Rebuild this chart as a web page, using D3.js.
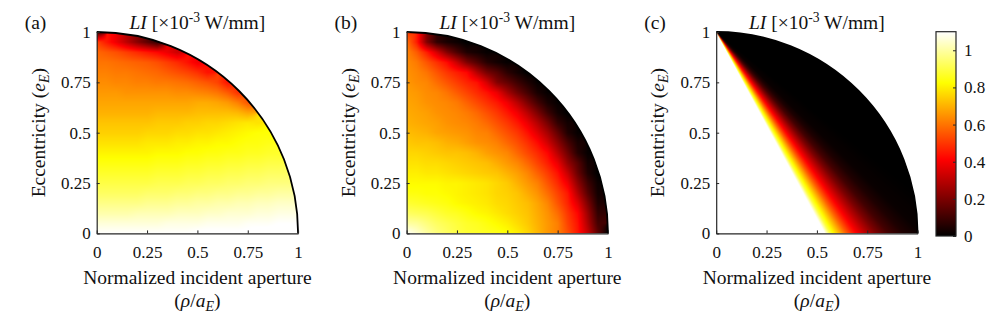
<!DOCTYPE html>
<html>
<head>
<meta charset="utf-8">
<script src="https://cdn.jsdelivr.net/npm/d3@7"></script>
<style>
  html, body { margin: 0; padding: 0; background: #fff; }
</style>
</head>
<body>
<script>
// ---- data ----
var axisTicks = [0, 0.25, 0.5, 0.75, 1];
var axisTickLabels = ["0", "0.25", "0.5", "0.75", "1"];
var cbTicks = [0, 0.2, 0.4, 0.6, 0.8, 1];
var cbTickLabels = ["0", "0.2", "0.4", "0.6", "0.8", "1"];
var cbMax = 1.1;
var panelLetters = ["(a)", "(b)", "(c)"];

// LI sampled every 0.05 in rho/a (columns) and e (rows, from e = 0 upward),
// only inside the quarter disc
var gridStep = 0.05;
var liA = [
  [1.10,1.10,1.10,1.10,1.10,1.10,1.10,1.10,1.10,1.10,1.11,1.11,1.11,1.11,1.11,1.11,1.12,1.12,1.12,1.12],
  [1.06,1.06,1.06,1.06,1.06,1.06,1.06,1.07,1.07,1.07,1.07,1.08,1.08,1.08,1.08,1.09,1.09,1.09,1.10,1.10],
  [1.01,1.01,1.01,1.01,1.02,1.02,1.02,1.02,1.03,1.03,1.03,1.04,1.04,1.05,1.05,1.05,1.06,1.06,1.07,1.07],
  [0.97,0.97,0.97,0.97,0.97,0.98,0.98,0.98,0.99,0.99,1.00,1.00,1.01,1.01,1.02,1.02,1.03,1.03,1.04,1.04],
  [0.93,0.93,0.93,0.93,0.93,0.94,0.94,0.94,0.95,0.95,0.96,0.96,0.97,0.97,0.98,0.98,0.99,0.99,1.00,1.00],
  [0.90,0.90,0.90,0.90,0.90,0.90,0.91,0.91,0.91,0.92,0.92,0.93,0.93,0.94,0.94,0.95,0.95,0.96,0.96,0.96],
  [0.87,0.87,0.87,0.87,0.87,0.87,0.88,0.88,0.88,0.89,0.89,0.90,0.90,0.91,0.91,0.92,0.92,0.93,0.93,0.93],
  [0.84,0.84,0.84,0.84,0.84,0.84,0.85,0.85,0.85,0.86,0.86,0.87,0.87,0.88,0.88,0.89,0.89,0.90,0.90],
  [0.81,0.81,0.81,0.81,0.81,0.81,0.82,0.82,0.82,0.83,0.83,0.84,0.84,0.85,0.85,0.86,0.86,0.87,0.87],
  [0.78,0.78,0.78,0.78,0.78,0.79,0.79,0.79,0.80,0.80,0.81,0.81,0.82,0.82,0.83,0.84,0.84,0.85],
  [0.75,0.75,0.75,0.75,0.75,0.76,0.76,0.76,0.77,0.77,0.78,0.78,0.79,0.80,0.81,0.82,0.83,0.83],
  [0.73,0.73,0.73,0.73,0.73,0.73,0.74,0.74,0.74,0.75,0.75,0.76,0.76,0.77,0.78,0.79,0.78],
  [0.70,0.70,0.70,0.70,0.70,0.70,0.71,0.71,0.71,0.71,0.72,0.72,0.72,0.72,0.71,0.68],
  [0.68,0.68,0.68,0.68,0.68,0.68,0.68,0.68,0.68,0.68,0.69,0.69,0.68,0.66,0.62,0.55],
  [0.66,0.66,0.66,0.65,0.65,0.65,0.65,0.65,0.64,0.64,0.63,0.62,0.60,0.56,0.49],
  [0.64,0.64,0.63,0.63,0.62,0.62,0.61,0.61,0.60,0.59,0.57,0.55,0.52,0.44],
  [0.62,0.62,0.61,0.61,0.60,0.59,0.58,0.56,0.54,0.52,0.49,0.44],
  [0.60,0.60,0.59,0.58,0.57,0.56,0.54,0.51,0.48,0.44,0.39],
  [0.58,0.56,0.54,0.51,0.48,0.45,0.42,0.38,0.33],
  [0.52,0.45,0.38,0.30,0.22,0.15,0.08],
  [0.10]
];
var liB = [
  [1.10,1.05,1.00,0.96,0.93,0.90,0.88,0.87,0.86,0.85,0.83,0.80,0.76,0.71,0.66,0.62,0.54,0.45,0.32,0.15,0.00],
  [1.00,0.99,0.96,0.93,0.91,0.89,0.87,0.86,0.84,0.82,0.80,0.77,0.74,0.70,0.66,0.62,0.52,0.44,0.28,0.11],
  [0.93,0.92,0.91,0.89,0.87,0.86,0.84,0.82,0.81,0.79,0.77,0.75,0.73,0.69,0.65,0.59,0.50,0.42,0.25,0.08],
  [0.88,0.87,0.86,0.85,0.84,0.82,0.81,0.80,0.79,0.77,0.76,0.74,0.72,0.68,0.63,0.55,0.47,0.36,0.20,0.05],
  [0.84,0.84,0.83,0.83,0.82,0.81,0.80,0.79,0.78,0.76,0.75,0.73,0.69,0.65,0.59,0.52,0.45,0.29,0.14,0.03],
  [0.82,0.82,0.82,0.82,0.81,0.81,0.80,0.79,0.78,0.76,0.74,0.70,0.66,0.62,0.55,0.48,0.39,0.23,0.10,0.02],
  [0.80,0.80,0.79,0.79,0.78,0.77,0.76,0.75,0.74,0.73,0.70,0.67,0.63,0.57,0.51,0.44,0.32,0.17,0.05,0.00],
  [0.78,0.78,0.77,0.77,0.76,0.75,0.74,0.73,0.72,0.69,0.66,0.63,0.58,0.52,0.46,0.38,0.24,0.14,0.03],
  [0.76,0.76,0.75,0.74,0.73,0.73,0.72,0.70,0.67,0.65,0.63,0.58,0.53,0.48,0.42,0.30,0.18,0.06,0.01],
  [0.74,0.73,0.73,0.72,0.70,0.69,0.67,0.65,0.64,0.62,0.58,0.54,0.49,0.43,0.34,0.23,0.12,0.04],
  [0.72,0.71,0.70,0.68,0.67,0.66,0.65,0.63,0.62,0.58,0.54,0.50,0.44,0.36,0.27,0.16,0.05,0.01],
  [0.70,0.69,0.68,0.67,0.65,0.64,0.63,0.61,0.58,0.54,0.50,0.45,0.38,0.29,0.19,0.08,0.03],
  [0.69,0.68,0.67,0.65,0.64,0.63,0.61,0.58,0.54,0.50,0.45,0.39,0.30,0.20,0.10,0.03,0.00],
  [0.68,0.67,0.65,0.64,0.63,0.61,0.57,0.53,0.49,0.45,0.39,0.30,0.20,0.11,0.04,0.01],
  [0.67,0.66,0.64,0.63,0.60,0.56,0.52,0.48,0.44,0.38,0.27,0.18,0.11,0.04,0.01],
  [0.66,0.64,0.63,0.59,0.55,0.51,0.47,0.44,0.34,0.21,0.16,0.10,0.05,0.01],
  [0.65,0.63,0.60,0.55,0.50,0.46,0.42,0.29,0.19,0.14,0.07,0.03,0.00],
  [0.64,0.61,0.55,0.49,0.43,0.32,0.20,0.13,0.06,0.03,0.01],
  [0.63,0.56,0.46,0.34,0.21,0.12,0.05,0.03,0.01],
  [0.60,0.46,0.21,0.08,0.04,0.02,0.00],
  [0.50]
];
// panel (c) is constant along rays from the apex (0, 1): LI against the
// rho/a where the ray meets e = 0
var rayFootC = [0, 0.515, 0.535, 0.55, 0.565, 0.585, 0.605, 0.625, 0.645, 0.675, 0.705, 0.745, 0.795, 0.855, 0.93, 1.02, 1.25];
var rayLIC   = [1.30, 1.25, 1.14, 1.02, 0.90, 0.81, 0.73, 0.65, 0.57, 0.47, 0.39, 0.30, 0.20, 0.11, 0.05, 0.015, 0];

// ---- layout ----
var width = 1002, height = 323;
var panelLeft = [96.7, 406.6, 716.2];
var plotSize = 201.4, plotTop = 32, plotBottom = plotTop + plotSize;
var serif = "'Liberation Serif', 'Times New Roman', Times, serif";
var ink = "#262626";

var svg = d3.select("body").append("svg")
    .attr("width", width)
    .attr("height", height)
    .style("font-family", serif);

svg.append("rect").attr("width", width).attr("height", height).attr("fill", "#fff");
var defs = svg.append("defs");

var hot = d3.scaleLinear()
    .domain([0, 0.375, 0.75, 1].map(function (t) { return t * cbMax; }))
    .range(["#000000", "#ff0000", "#ffff00", "#ffffff"])
    .clamp(true);

// lookup table so the pixel loop stays cheap
var lut = d3.range(0, 1101).map(function (i) { return d3.rgb(hot(i / 1000)); });
function lookup(v) {
    var i = Math.round(Math.max(0, Math.min(1.1, v)) * 1000);
    return lut[i];
}

function sampleGrid(rows, x, e) {
    var fi = e / gridStep, fj = x / gridStep;
    var i0 = Math.floor(fi), j0 = Math.floor(fj);
    var ti = fi - i0, tj = fj - j0;
    var sum = 0, wsum = 0;
    for (var di = 0; di < 2; di++) {
        var row = rows[i0 + di];
        if (!row) continue;
        for (var dj = 0; dj < 2; dj++) {
            var v = row[j0 + dj];
            if (v == null) continue;
            var w = (di ? ti : 1 - ti) * (dj ? tj : 1 - tj) + 1e-6;
            sum += w * v;
            wsum += w;
        }
    }
    if (wsum > 0) return sum / wsum;
    for (var i = Math.min(i0, rows.length - 1); i >= 0; i--) {
        if (rows[i] && rows[i].length) return rows[i][Math.min(j0, rows[i].length - 1)];
    }
    return 0;
}

var rayC = d3.scaleLinear().domain(rayFootC).range(rayLIC).clamp(true);

var fields = [
    function (x, e) { return sampleGrid(liA, x, e); },
    function (x, e) { return sampleGrid(liB, x, e); },
    function (x, e) { return e >= 1 ? 0 : rayC(x / (1 - e)); }
];

fields.forEach(function (field, k) {
    var left = panelLeft[k];
    var x = d3.scaleLinear().domain([0, 1]).range([left, left + plotSize]);
    var y = d3.scaleLinear().domain([0, 1]).range([plotBottom, plotTop]);
    var g = svg.append("g");

    // heat map pixels
    var n = 2 * Math.ceil(plotSize);
    var canvas = document.createElement("canvas");
    canvas.width = n;
    canvas.height = n;
    var ctx = canvas.getContext("2d");
    var img = ctx.createImageData(n, n);
    for (var py = 0; py < n; py++) {
        var ev = y.invert(plotTop + (py + 0.5) * plotSize / n);
        for (var px = 0; px < n; px++) {
            var xv = x.invert(left + (px + 0.5) * plotSize / n);
            var c = lookup(field(Math.max(0, xv), Math.max(0, ev)));
            var o = 4 * (py * n + px);
            img.data[o] = c.r;
            img.data[o + 1] = c.g;
            img.data[o + 2] = c.b;
            img.data[o + 3] = 255;
        }
    }
    ctx.putImageData(img, 0, 0);

    var disc = "M" + x(0) + "," + y(0) + "L" + x(1) + "," + y(0) +
        "A" + (x(1) - x(0)) + "," + (y(0) - y(1)) + " 0 0 0 " + x(0) + "," + y(1) + "Z";
    defs.append("clipPath").attr("id", "disc" + k).append("path").attr("d", disc);

    g.append("image")
        .attr("href", canvas.toDataURL())
        .attr("x", left).attr("y", plotTop)
        .attr("width", plotSize).attr("height", plotSize)
        .attr("preserveAspectRatio", "none")
        .attr("clip-path", "url(#disc" + k + ")");

    g.append("path")
        .attr("d", "M" + x(1) + "," + y(0) + "A" + (x(1) - x(0)) + "," + (y(0) - y(1)) +
            " 0 0 0 " + x(0) + "," + y(1))
        .attr("fill", "none")
        .attr("stroke", "#000")
        .attr("stroke-width", 1.8);

    // axes, ticks pointing inward
    var xAxis = d3.axisBottom(x)
        .tickValues(axisTicks)
        .tickFormat(function (d, i) { return axisTickLabels[i]; })
        .tickSizeInner(-3).tickSizeOuter(0).tickPadding(13);
    var yAxis = d3.axisLeft(y)
        .tickValues(axisTicks)
        .tickFormat(function (d, i) { return axisTickLabels[i]; })
        .tickSizeInner(-3).tickSizeOuter(0).tickPadding(6);

    [[xAxis, "translate(0," + plotBottom + ")"], [yAxis, "translate(" + left + ",0)"]].forEach(function (a) {
        var ax = g.append("g").attr("transform", a[1]).call(a[0]);
        ax.attr("font-family", serif).attr("font-size", 17).attr("color", ink);
        ax.select(".domain").attr("stroke-width", 1.2);
        ax.selectAll("text").attr("fill", "#111");
    });

    var cx = (x(0) + x(1)) / 2;

    var title = g.append("text")
        .attr("x", cx).attr("y", 29)
        .attr("text-anchor", "middle")
        .attr("font-size", 19.5)
        .attr("fill", "#111");
    title.append("tspan").attr("font-style", "italic").text("LI");
    title.append("tspan").text(" [\u00d710");
    title.append("tspan").attr("baseline-shift", "super").attr("font-size", "70%").text("-3");
    title.append("tspan").text(" W/mm]");

    g.append("text")
        .attr("x", left - 72).attr("y", 29)
        .attr("font-size", 19.5)
        .attr("fill", "#111")
        .text(panelLetters[k]);

    var ylab = g.append("text")
        .attr("transform", "translate(" + (left - 52) + "," + ((plotTop + plotBottom) / 2) + ") rotate(-90)")
        .attr("text-anchor", "middle")
        .attr("font-size", 19.5)
        .attr("fill", "#111");
    ylab.append("tspan").text("Eccentricity (");
    ylab.append("tspan").attr("font-style", "italic").text("e");
    ylab.append("tspan").attr("font-style", "italic").attr("font-size", "72%").attr("baseline-shift", "-28%").text("E");
    ylab.append("tspan").text(")");

    g.append("text")
        .attr("x", cx).attr("y", 284)
        .attr("text-anchor", "middle")
        .attr("font-size", 19.5)
        .attr("fill", "#111")
        .text("Normalized incident aperture");

    var xlab2 = g.append("text")
        .attr("x", cx).attr("y", 306.5)
        .attr("text-anchor", "middle")
        .attr("font-size", 19.5)
        .attr("fill", "#111");
    xlab2.append("tspan").text("(");
    xlab2.append("tspan").attr("font-style", "italic").text("\u03c1");
    xlab2.append("tspan").text("/");
    xlab2.append("tspan").attr("font-style", "italic").text("a");
    xlab2.append("tspan").attr("font-style", "italic").attr("font-size", "72%").attr("baseline-shift", "-28%").text("E");
    xlab2.append("tspan").text(")");
});

// ---- colour bar ----
var cbLeft = 936, cbWidth = 20, cbTop = 31.7, cbBottom = 236;
var cbScale = d3.scaleLinear().domain([0, cbMax]).range([cbBottom, cbTop]);

var grad = defs.append("linearGradient")
    .attr("id", "hotbar")
    .attr("x1", 0).attr("y1", 1).attr("x2", 0).attr("y2", 0);
hot.domain().forEach(function (v) {
    grad.append("stop").attr("offset", v / cbMax).attr("stop-color", hot(v));
});

svg.append("rect")
    .attr("x", cbLeft).attr("y", cbTop)
    .attr("width", cbWidth).attr("height", cbBottom - cbTop)
    .attr("fill", "url(#hotbar)")
    .attr("stroke", ink).attr("stroke-width", 1.2);

var cbAxis = d3.axisRight(cbScale)
    .tickValues(cbTicks)
    .tickFormat(function (d, i) { return cbTickLabels[i]; })
    .tickSizeInner(-3).tickSizeOuter(0).tickPadding(8);

var cbg = svg.append("g")
    .attr("transform", "translate(" + (cbLeft + cbWidth) + ",0)")
    .call(cbAxis);
cbg.attr("font-family", serif).attr("font-size", 17).attr("color", ink);
cbg.select(".domain").remove();
cbg.selectAll("text").attr("fill", "#111");
</script>
</body>
</html>
